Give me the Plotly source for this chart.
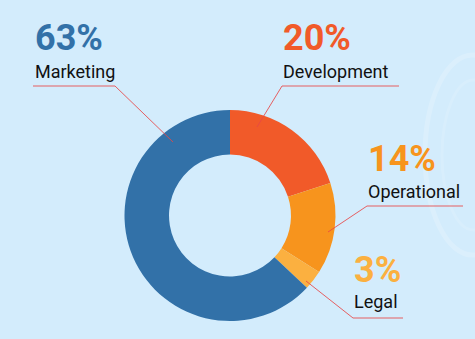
import plotly.graph_objects as go

W, H = 475, 339

# Data
categories = ["Development", "Operational", "Legal", "Marketing"]
values = [20, 14, 3, 63]
pct_labels = ["20%", "14%", "3%", "63%"]
colors = ["#F15A29", "#F7941D", "#FBB040", "#3271A8"]
label_colors = ["#F15A29", "#F7941D", "#FBB040", "#3271A8"]

def px(x):
    return x / W

def py(y):
    return 1 - y / H

cx, cy, r = 230, 215.5, 105.5

fig = go.Figure(go.Pie(
    labels=categories, values=values, sort=False, direction="clockwise",
    rotation=0, hole=0.578, textinfo="none", hoverinfo="label+percent",
    marker=dict(colors=colors, line=dict(width=0)),
    domain=dict(x=[px(cx - r), px(cx + r)], y=[py(cy + r), py(cy - r)]),
    showlegend=False,
))

layout_info = {
    "Marketing":   dict(x=35,  py_=37.5, ny=71.5, uy=86,  ux0=33,  ux1=115, lead=(173, 142), start="right"),
    "Development": dict(x=283, py_=37.5, ny=71.5, uy=86,  ux0=282, ux1=399, lead=(257, 127), start="left"),
    "Operational": dict(x=368, py_=159,  ny=191.5, uy=206, ux0=367, ux1=463, lead=(328, 232), start="left"),
    "Legal":       dict(x=354, py_=269.5, ny=301.5, uy=318, ux0=353, ux1=403, lead=(306, 281), start="left"),
}

annotations = []
shapes = []
# faint decorative ring on the right
shapes.append(dict(type="circle", xref="paper", yref="paper",
                   x0=px(425), x1=px(520), y0=py(255), y1=py(55),
                   line=dict(color="rgba(255,255,255,0.18)", width=5)))
shapes.append(dict(type="circle", xref="paper", yref="paper",
                   x0=px(442), x1=px(505), y0=py(230), y1=py(80),
                   line=dict(color="rgba(255,255,255,0.12)", width=3)))

for cat, pl, lc in zip(categories, pct_labels, label_colors):
    info = layout_info[cat]
    annotations.append(dict(x=px(info["x"] - 2), y=py(info["py_"]), xref="paper", yref="paper",
                            text=f"<b>{pl}</b>", showarrow=False, xanchor="left", yanchor="middle",
                            font=dict(family="Roboto", size=36, color=lc)))
    annotations.append(dict(x=px(info["x"] - 2), y=py(info["ny"]), xref="paper", yref="paper",
                            text=cat, showarrow=False, xanchor="left", yanchor="middle",
                            font=dict(family="Roboto", size=18, color="#111111")))
    line_col = "rgba(232,70,70,0.85)"
    shapes.append(dict(type="line", xref="paper", yref="paper",
                       x0=px(info["ux0"]), x1=px(info["ux1"]), y0=py(info["uy"]), y1=py(info["uy"]),
                       line=dict(color=line_col, width=1.2)))
    sx = info["ux1"] if info["start"] == "right" else info["ux0"]
    lx, ly = info["lead"]
    shapes.append(dict(type="line", xref="paper", yref="paper",
                       x0=px(sx), x1=px(lx), y0=py(info["uy"]), y1=py(ly),
                       line=dict(color=line_col, width=1)))

fig.update_layout(
    width=W, height=H, margin=dict(l=0, r=0, t=0, b=0),
    paper_bgcolor="#D3ECFC", plot_bgcolor="#D3ECFC",
    annotations=annotations, shapes=shapes,
)

fig.write_html("out.html", config={"displayModeBar": False})
